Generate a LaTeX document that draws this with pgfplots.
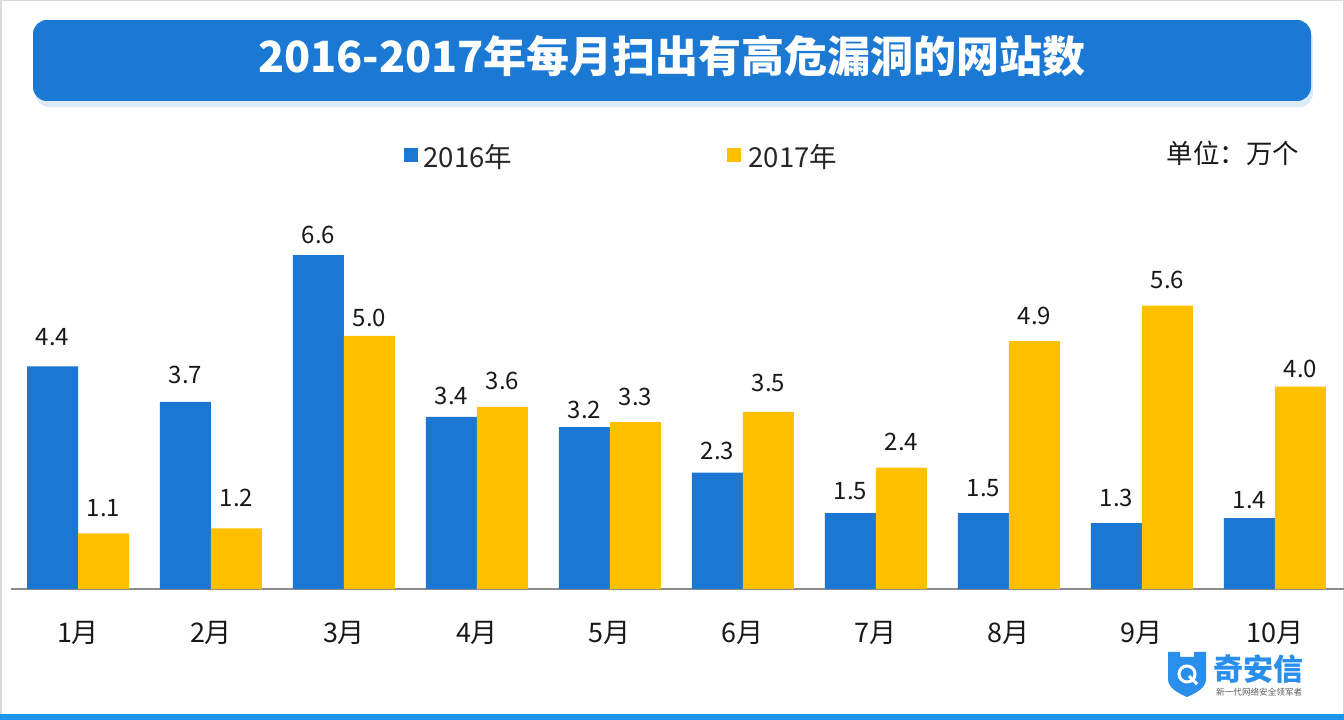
\documentclass[border=0pt]{standalone}
\usepackage{pgfplots}
\usepackage{pgfplotstable}
\pgfplotsset{compat=1.18}
\usepackage{fontspec}
\setmainfont{Noto Sans CJK SC}
\definecolor{cblue}{HTML}{1B77D2}
\definecolor{cyellow}{HTML}{FFC000}
\definecolor{titleblue}{HTML}{1B78D3}
\definecolor{stripe}{HTML}{1E96EB}
\definecolor{logoblue}{HTML}{2A8FEA}
\pgfplotstableread{
x y dy
0 4.4 17
1 3.7 14
2 6.6 8
3 3.4 9
4 3.2 5
5 2.3 9
6 1.5 10
7 1.5 13
8 1.3 13
9 1.4 6
}\dataA
\pgfplotstableread{
x y dy
0 1.1 13
1 1.2 18
2 5.0 6
3 3.6 13
4 3.3 13
5 3.5 17
6 2.4 13
7 4.9 13
8 5.6 13
9 4.0 5
}\dataB
\begin{document}
\begin{tikzpicture}
\useasboundingbox (0,0) rectangle (1344pt,720pt);
\clip (0,0) rectangle (1344pt,720pt);
% background
\fill[white] (0,0) rectangle (1344pt,720pt);
\begin{scope}[x=1pt,y=-1pt,yshift=720pt]
\draw[gray!30,line width=1.5pt] (0.75,0.75) rectangle (1343.25,719.25);
\fill[stripe] (0,714) rectangle (1344,720);
% title shadow and bar
\fill[titleblue!15,rounded corners=14pt] (35,26) rectangle (1313,107);
\fill[titleblue,rounded corners=14pt] (33,20) rectangle (1311,101);
\node[white,font=\fontsize{43}{46}\selectfont\bfseries] at (672,56) {2016-2017年每月扫出有高危漏洞的网站数};
% legend
\fill[cblue] (404,148) rectangle (418,162);
\node[anchor=west,font=\fontsize{27.5}{30}\selectfont,text=black!85] at (420,157) {2016年};
\fill[cyellow] (727,148) rectangle (741,162);
\node[anchor=west,font=\fontsize{27.5}{30}\selectfont,text=black!85] at (745,157) {2017年};
\node[anchor=east,font=\fontsize{26.5}{30}\selectfont,text=black!90] at (1303,153) {单位：万个};
% logo
\fill[logoblue] (1168,652) -- (1180,652) -- (1180,657) -- (1194,657) -- (1194,652) -- (1206,652) -- (1206,679) .. controls (1206,688) and (1196,693) .. (1187,697) .. controls (1178,693) and (1168,688) .. (1168,679) -- cycle;
\draw[white,line width=3pt] (1187,674) circle (8);
\draw[white,line width=3pt] (1189,676) -- (1197,684);
\node[anchor=west,text=logoblue,font=\fontsize{30}{32}\selectfont\bfseries,inner sep=0pt] at (1213,669) {奇安信};
\node[anchor=west,text=black!65,font=\fontsize{8.6}{9}\selectfont,inner sep=0pt] at (1216,692) {新一代网络安全领军者};
\end{scope}
\begin{axis}[
  at={(78pt,131pt)}, anchor=origin,
  scale only axis, width=1333pt, height=404.8pt,
  xmin=-0.504, xmax=9.519, ymin=0, ymax=8,
  ybar=0pt, bar width=51pt,
  axis x line=bottom, axis y line=none,
  axis line style={draw=black!45,line width=1.2pt,-},
  xtick=data, xticklabels={1月,2月,3月,4月,5月,6月,7月,8月,9月,10月},
  major tick length=0pt,
  xticklabel style={font=\fontsize{27}{30}\selectfont,text=black!90,yshift=-29pt},
  nodes near coords,
  visualization depends on={\thisrow{dy} \as \labdy},
  nodes near coords style={font=\fontsize{24}{26}\selectfont,text=black!90,yshift=\labdy pt},
  /pgf/number format/fixed, /pgf/number format/fixed zerofill, /pgf/number format/precision=1, /pgf/number format/assume math mode=true,
]
\addplot[fill=cblue,draw=none] table[x=x,y=y] {\dataA};
\addplot[fill=cyellow,draw=none] table[x=x,y=y] {\dataB};
\end{axis}
\end{tikzpicture}
\end{document}
